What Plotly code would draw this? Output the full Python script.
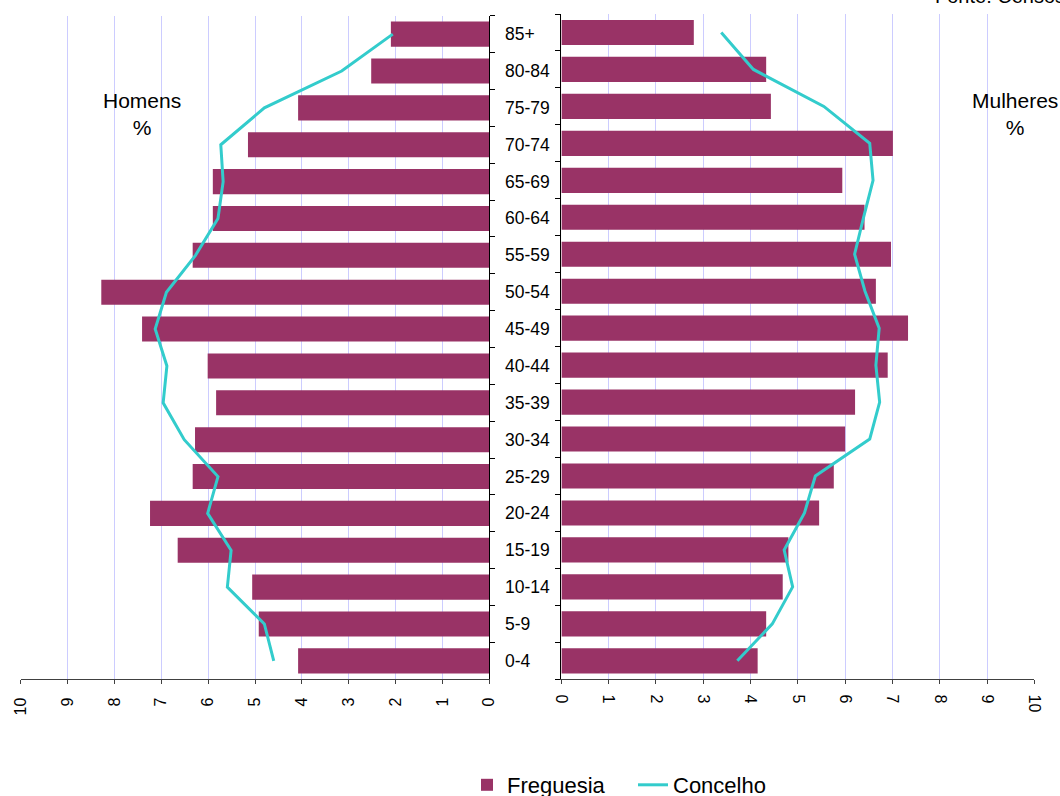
import plotly.graph_objects as go

age_groups = ["0-4", "5-9", "10-14", "15-19", "20-24", "25-29", "30-34", "35-39", "40-44",
              "45-49", "50-54", "55-59", "60-64", "65-69", "70-74", "75-79", "80-84", "85+"]
men_freguesia = [4.08, 4.92, 5.06, 6.65, 7.24, 6.33, 6.28, 5.83, 6.01, 7.41, 8.28, 6.33, 5.90, 5.90, 5.15, 4.08, 2.52, 2.10]
men_concelho = [4.60, 4.80, 5.59, 5.51, 6.01, 5.79, 6.51, 6.96, 6.88, 7.13, 6.89, 6.27, 5.79, 5.68, 5.73, 4.80, 3.15, 2.06]
women_freguesia = [4.15, 4.33, 4.68, 4.80, 5.45, 5.76, 6.00, 6.21, 6.90, 7.33, 6.65, 6.97, 6.41, 5.94, 7.01, 4.43, 4.33, 2.80]
women_concelho = [3.72, 4.46, 4.89, 4.71, 5.14, 5.37, 6.52, 6.73, 6.65, 6.72, 6.42, 6.20, 6.39, 6.59, 6.52, 5.55, 4.06, 3.38]
x_ticks = list(range(0, 11))

W, H = 1060, 796
FONT = "Liberation Sans, Arial, sans-serif"
BAR = "#993366"
LINE = "#33CCCC"
GRID = "#CCCCFF"

def px_x(p):
    return p / W

def px_y(p):
    return 1 - p / H

left_dom = [px_x(20.7), px_x(489.3)]
right_dom = [px_x(561.4), px_x(1034.3)]
yl_dom = [px_y(679.3), px_y(15.7)]
yr_dom = [px_y(679.3), px_y(14.0)]

fig = go.Figure()
fig.add_trace(go.Bar(y=age_groups, x=men_freguesia, orientation="h", marker_color=BAR,
                     marker_line_width=0, name="Freguesia", xaxis="x", yaxis="y",
                     legendgroup="f"))
fig.add_trace(go.Scatter(y=age_groups, x=men_concelho, mode="lines",
                         line=dict(color=LINE, width=3), name="Concelho",
                         xaxis="x", yaxis="y", legendgroup="c"))
fig.add_trace(go.Bar(y=age_groups, x=women_freguesia, orientation="h", marker_color=BAR,
                     marker_line_width=0, name="Freguesia", xaxis="x2", yaxis="y2",
                     legendgroup="f", showlegend=False))
fig.add_trace(go.Scatter(y=age_groups, x=women_concelho, mode="lines",
                         line=dict(color=LINE, width=3), name="Concelho",
                         xaxis="x2", yaxis="y2", legendgroup="c", showlegend=False))

xcommon = dict(tickmode="array", tickvals=x_ticks, ticks="outside", ticklen=4,
               tickcolor="#404040", showgrid=True, gridcolor=GRID, gridwidth=1,
               showline=True, linecolor="#404040", linewidth=1, zeroline=False,
               tickfont=dict(size=16, color="black", family=FONT),
               ticklabelstandoff=7, fixedrange=True, automargin=False)
ycommon = dict(type="category", categoryorder="array", categoryarray=age_groups,
               range=[-0.5, len(age_groups) - 0.5], tickson="boundaries",
               ticks="outside", ticklen=5, tickcolor="black", showticklabels=False,
               showline=True, linecolor="black", linewidth=1, showgrid=False,
               zeroline=False, fixedrange=True, automargin=False)
xover = dict(tickmode="array", tickvals=x_ticks, ticks="inside", ticklen=4,
             tickcolor="#404040", showticklabels=False, showgrid=False,
             showline=False, zeroline=False, fixedrange=True, automargin=False)
yover = dict(type="linear", tickmode="linear", tick0=-0.5, dtick=1,
             range=[-0.5, len(age_groups) - 0.5], ticks="inside", ticklen=5,
             tickcolor="black", showticklabels=False, showgrid=False,
             showline=False, zeroline=False, fixedrange=True, automargin=False)

fig.update_layout(
    width=W, height=H, autosize=False,
    margin=dict(l=0, r=0, t=0, b=0, pad=0, autoexpand=False),
    paper_bgcolor="white", plot_bgcolor="white",
    font=dict(family=FONT, color="black"),
    bargap=0.32,
    xaxis=dict(domain=left_dom, range=[10, 0], anchor="y", tickangle=-90, **xcommon),
    yaxis=dict(domain=yl_dom, anchor="x", side="right", **ycommon),
    xaxis2=dict(domain=right_dom, range=[0, 10], anchor="y2", tickangle=90, **xcommon),
    yaxis2=dict(domain=yr_dom, anchor="x2", side="left", **ycommon),
    xaxis3=dict(overlaying="x", anchor="y", range=[10, 0], side="bottom", **xover),
    yaxis3=dict(overlaying="y", anchor="x", side="right", **yover),
    xaxis4=dict(overlaying="x2", anchor="y2", range=[0, 10], side="bottom", **xover),
    yaxis4=dict(overlaying="y2", anchor="x2", side="left", **yover),
    legend=dict(orientation="h", x=px_x(467), y=px_y(764), xanchor="left", yanchor="top",
                font=dict(size=22, family=FONT, color="black"), bgcolor="rgba(0,0,0,0)",
                tracegroupgap=0, entrywidth=121, entrywidthmode="pixels"),
    showlegend=True,
)

annotations = []
for g in age_groups:
    annotations.append(dict(x=px_x(503), xref="paper", y=g, yref="y", text=g,
                            xanchor="left", yanchor="middle", showarrow=False,
                            font=dict(size=17.5, family=FONT, color="black")))
annotations.append(dict(x=px_x(141.6), xref="paper", y=px_y(114), yref="paper",
                        text="Homens<br>%", showarrow=False, xanchor="center",
                        yanchor="middle", font=dict(size=21, family=FONT, color="black")))
annotations.append(dict(x=px_x(1015), xref="paper", y=px_y(114), yref="paper",
                        text="Mulheres<br>%", showarrow=False, xanchor="center",
                        yanchor="middle", font=dict(size=21, family=FONT, color="black")))
annotations.append(dict(x=px_x(933), xref="paper", y=px_y(9), yref="paper",
                        text="Fonte: Censos 2001", showarrow=False, xanchor="left",
                        yanchor="bottom", font=dict(size=20, family=FONT, color="black")))
fig.update_layout(annotations=annotations)

fig.write_html("out.html", config={"displayModeBar": False},
               post_script="document.body.style.margin='0';document.body.style.overflow='hidden';")
